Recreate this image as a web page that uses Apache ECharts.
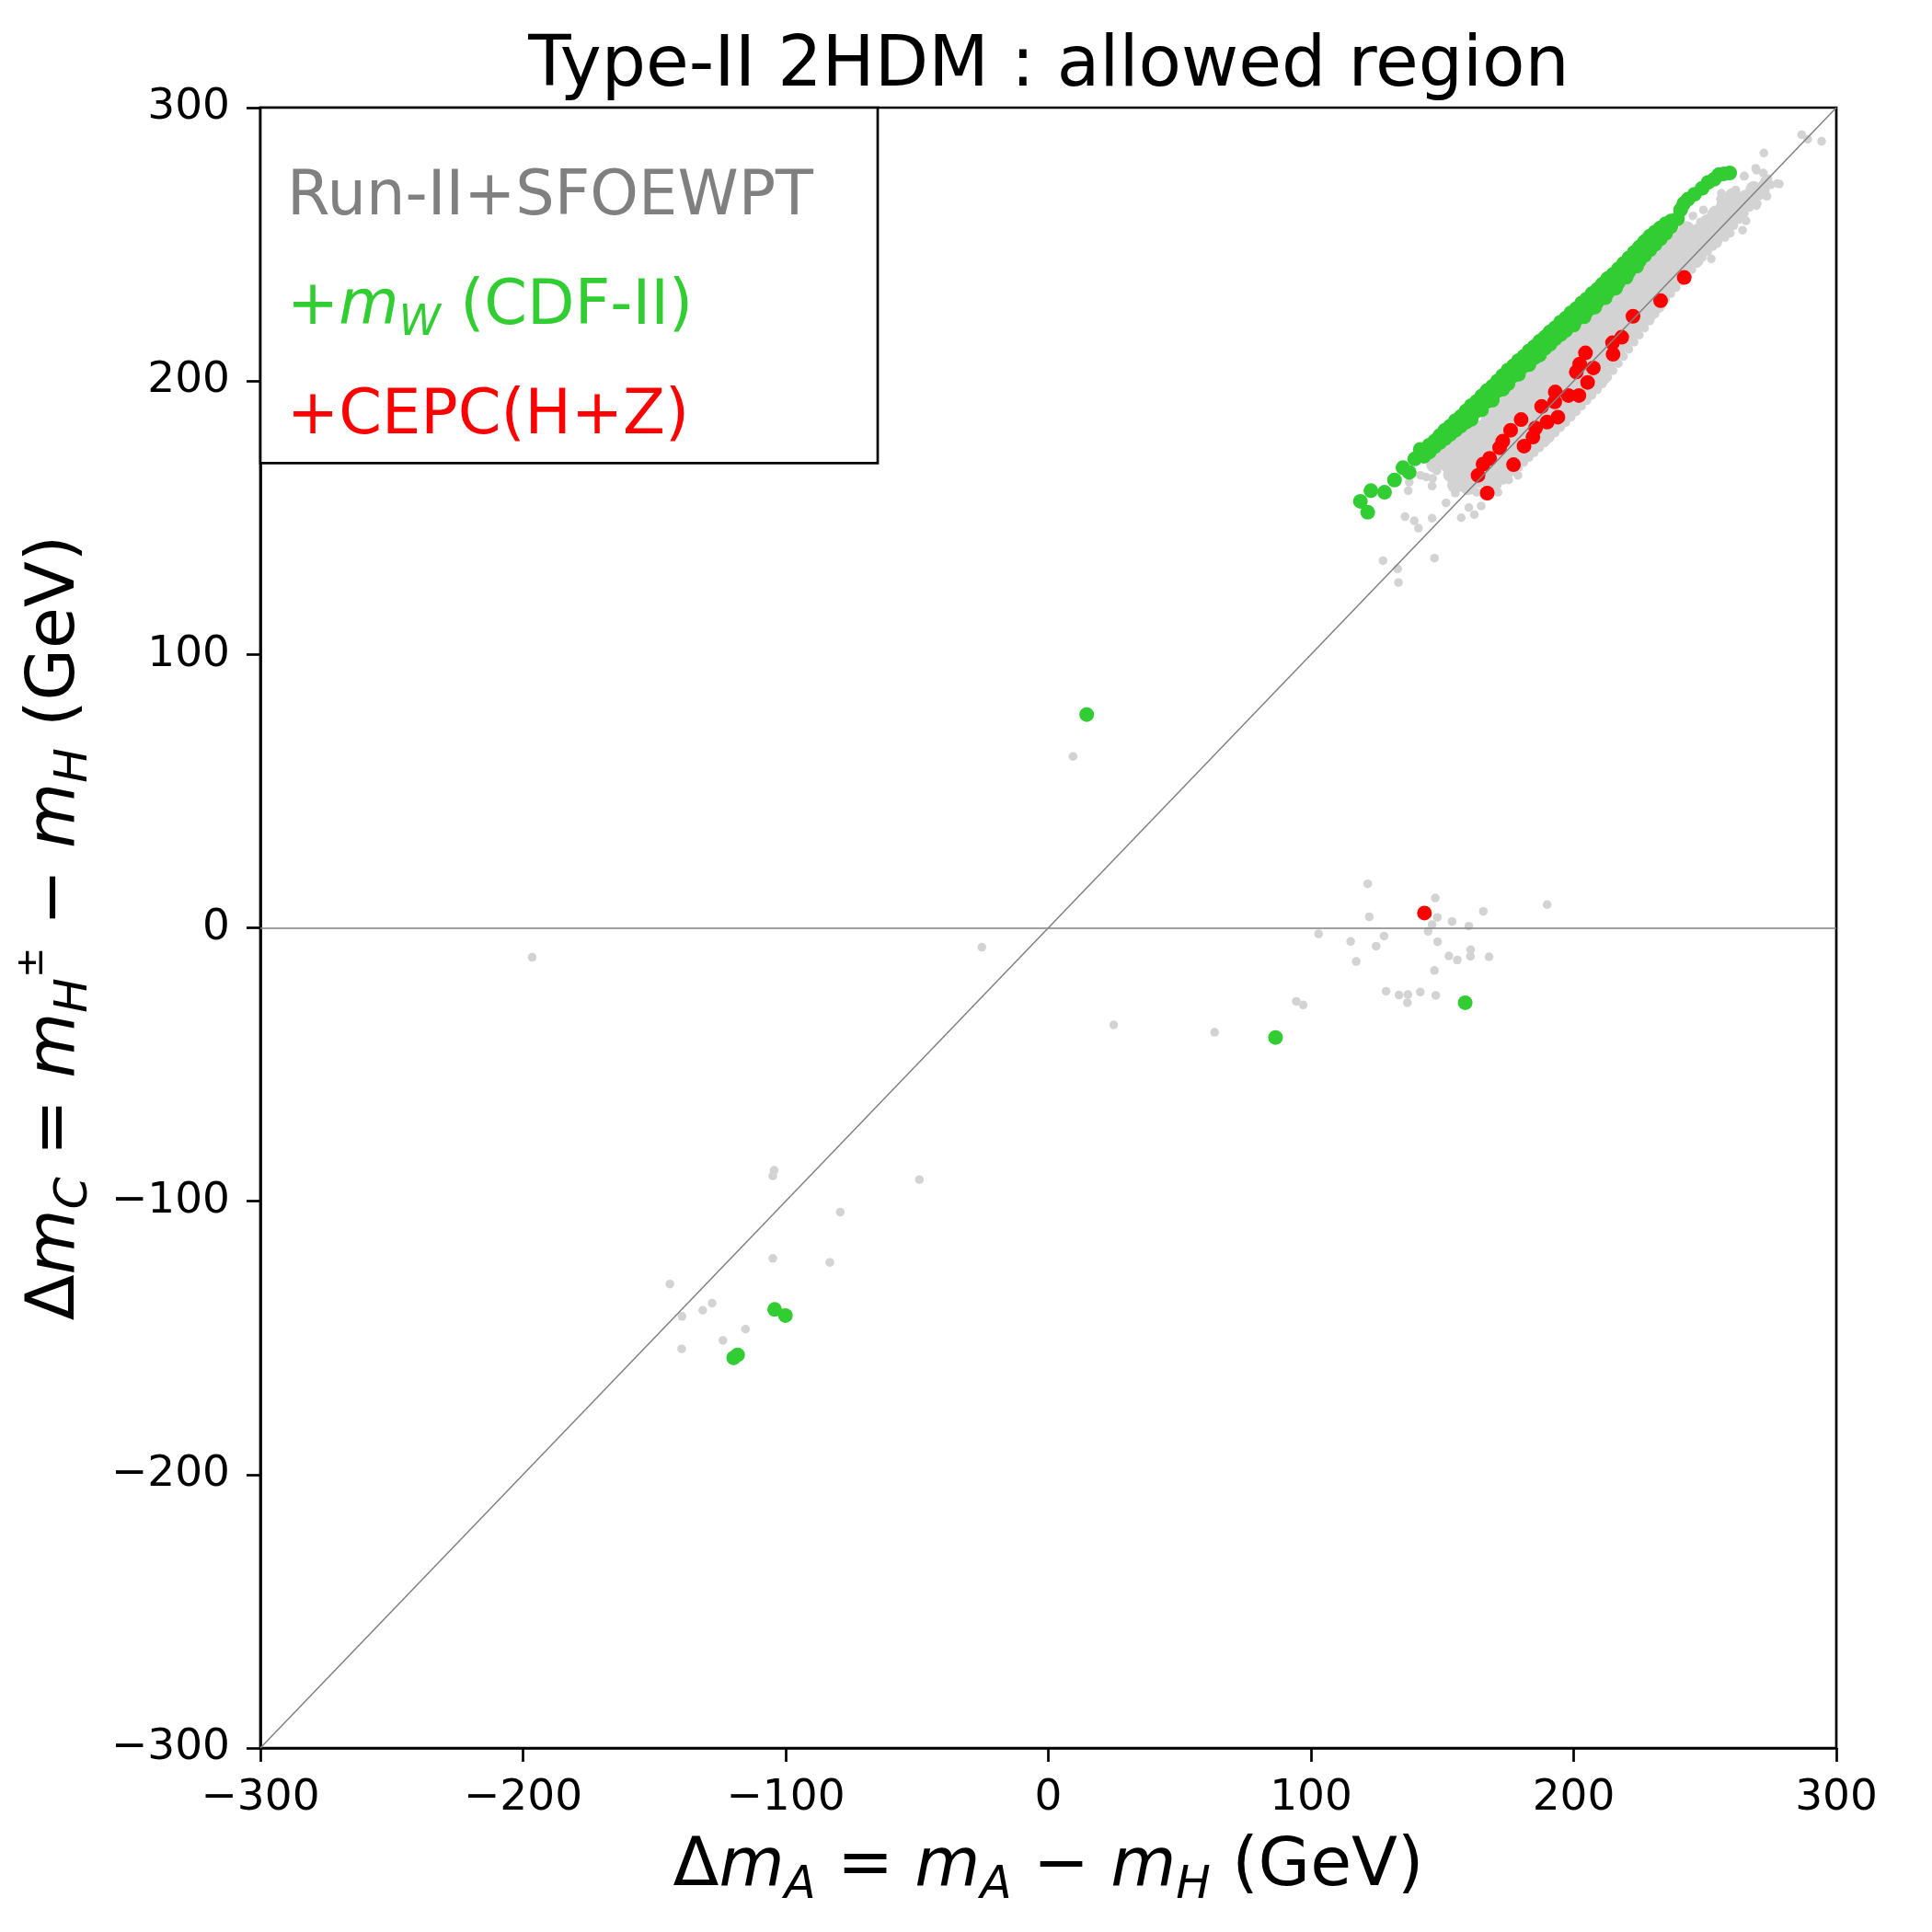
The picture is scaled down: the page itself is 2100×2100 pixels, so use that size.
<!DOCTYPE html>
<html>
<head>
<meta charset="utf-8">
<script src="https://cdn.jsdelivr.net/npm/echarts@6/dist/echarts.min.js"></script>
<style>
html,body{margin:0;padding:0;background:#fff;}
#chart{width:2100px;height:2100px;}
</style>
</head>
<body>
<div id="chart"></div>
<script>
// ---------------- data ----------------
const titleText = 'Type-II 2HDM : allowed region';
const axisMin = -300, axisMax = 300, axisStep = 100;
const seriesNames = ['Run-II+SFOEWPT', '+mW (CDF-II)', '+CEPC(H+Z)'];

// isolated grey scan points
const greyScatter = [
  [-196.5,-10.8],[-25.3,-7.1],[9.4,62.7],[24.9,-35.5],[63.3,-38.2],
  [-104.4,-88.7],[-104.9,-90.7],[-49.1,-92.1],[-79.2,-104.0],[-104.9,-120.9],[-83.2,-122.4],
  [-144.1,-130.3],[-128.0,-137.3],[-131.6,-139.9],[-139.5,-142.1],[-115.3,-146.8],[-123.9,-150.9],[-139.6,-154.0],
  [121.6,16.1],[147.3,10.9],[122.2,4.0],[148.1,3.8],[153.7,2.3],[165.6,6.0],[189.9,8.5],[146.1,1.2],
  [144.6,-1.3],[160.1,0.6],[102.9,-2.2],[115.1,-5.0],[127.8,-3.0],[124.8,-6.7],[148.2,-5.1],[160.8,-8.0],
  [152.5,-10.3],[155.7,-11.8],[160.7,-10.4],[167.8,-10.6],[117.2,-12.3],[147.0,-15.6],[128.6,-23.2],
  [133.5,-24.6],[136.9,-24.4],[141.6,-23.5],[147.5,-24.7],[136.7,-27.4],[94.4,-26.9],[97.0,-28.2],
  [127.4,134.3],[133.0,131.3],[133.3,126.3],[147.0,135.2],[135.8,150.4],[139.3,148.9],[140.9,146.2],
  [146.1,149.8],[137.0,159.9],[137.4,163.0],[146.1,161.6],[146.3,164.4],[143.8,164.9],[141.7,165.5],
  [147.9,167.2],[151.4,155.4],[157.2,150.0],[162.2,151.1],[160.1,153.7],[164.8,154.3],[154.9,159.0],
  [155.5,162.1],[158.4,161.9],[156.6,164.4],[151.7,168.0],[154.3,168.9],[160.1,174.5],[158.4,170.6],
  [161.3,165.5],[166.0,158.2],[171.2,159.3],[168.3,162.1],[175.3,163.8],[178.8,165.5],
  [286.8,290.1],[289.1,288.4],[294.4,287.7],[272.4,283.4],[265.0,275.0],[269.3,277.8],[272.2,276.1],
  [272.8,273.3],[277.5,272.2],[273.4,267.7],[269.9,264.9],[265.2,266.0],[261.7,269.9],[263.5,267.1],
  [255.9,266.6],[264.0,259.8],[261.1,262.6],[258.2,262.6],[259.4,255.9],[255.9,259.3],[252.4,261.0],
  [249.4,262.6],[245.4,260.4],[248.3,258.2],[253.5,253.7],[257.6,252.5],[254.7,250.3],[251.2,248.6],
  [246.5,252.5],[244.2,254.8],[242.4,250.3],[247.7,246.9],[252.4,244.7],[244.2,244.7],[240.7,246.9],
  [238.4,243.6],[234.9,242.5],[238.4,239.1],[242.4,241.3],[247.7,243.6],[231.4,236.8],[234.9,234.6],
  [229.0,232.4],[224.3,230.1],[222.0,232.4],[220.8,227.9],[226.7,226.8],[231.4,227.9],[236.0,232.4],
  [219.1,223.4],[224.3,223.4],[229.0,224.5],
  [256.2,268.7],[264.9,274.9],[269.6,277.1],[278.3,272.1],[273.6,267.6],[269.6,264.2],[265.6,258.6],
  [264.3,255.2],[259.6,254.1],[262.2,262.0],[257.6,258.6]
];

// grey scan points along the lower-right rim of the dense band
const greyBandEdge = [
  [163,159.3],[165,159.3],[167,160.1],[169,160.9],[171,162.1],[173,163.7],[175,165.3],[177,166.9],
  [179,168.5],[181,170.2],[183,172.0],[185,173.8],[187,175.6],[189,177.4],[191,179.2],[193,181.1],
  [195,183.0],[197,184.9],[199,186.8],[201,188.8],[203,190.8],[205,192.8],[207,194.8],[209,196.8],
  [211,199.0],[213,201.4],[215,203.8],[217,206.4],[219,209.0],[221,211.6],[223,214.2],[225,216.8],
  [227,219.4],[229,222.0],[231,224.6],[233,227.2],[235,229.8],[237,232.0],[239,234.2],[241,236.4],
  [243,238.6],[245,240.8],[247,243.0],[249,245.2],[251,247.3],[253,249.2],[255,251.1],[257,253.0],
  [259,254.9],[261,256.9],[263,259.1],[265,261.3],[267,263.5],[269,265.7],[271,267.8],[273,269.8],[275,271.8],
  [164,162.5],[166,162.9],[168,163.7],[170,164.7],[172,166.1],[174,167.7],[176,169.3],[178,170.9],
  [180,172.5],[182,174.3],[184,176.1],[186,177.9],[188,179.7],[190,181.5],[192,183.4],[194,185.3],
  [196,187.2],[198,189.1],[200,191.0],[202,193.0],[204,195.0],[206,197.0],[208,199.0],[210,201.1],
  [212,203.4],[214,205.8],[216,208.3],[218,210.9],[220,213.5],[222,216.1],[224,218.7],[226,221.3],
  [228,223.9],[230,226.5],[232,229.1],[234,231.7],[236,234.1],[238,236.3],[240,238.5],[242,240.7],
  [244,242.9],[246,245.1],[248,247.3],[250,249.5],[252,251.5],[254,253.4],[256,255.3],[258,257.2],
  [260,259.1],[262,261.2],[264,263.4],[266,265.6],[268,267.8],[270,270.0],[272,272.0],[274,274.0]
];

// grey scan points filling the interior of the dense band
const greyBandCore = [
  [147.0,169.5],[150.2,172.7],[153.4,175.9],[156.6,179.1],[159.8,182.3],
  [151.8,169.8],[155.0,173.0],[158.2,176.2],[161.4,179.4],[164.6,182.6],[167.8,185.8],[171.0,189.0],
  [174.2,192.2],[177.4,195.4],[180.6,198.6],[183.8,201.8],[187.0,205.0],[190.2,208.2],[193.4,211.4],
  [196.6,214.6],[199.8,217.8],[203.0,221.0],[206.2,224.2],[209.4,227.4],[212.6,230.6],[215.8,233.8],
  [219.0,237.0],[222.2,240.2],[225.4,243.4],[228.6,246.6],[231.8,249.8],[235.0,253.0],
  [153.4,165.9],[156.6,169.1],[159.8,172.3],[163.0,175.5],[166.2,178.7],[169.4,181.9],[172.6,185.1],
  [175.8,188.3],[179.0,191.5],[182.2,194.7],[185.4,197.9],[188.6,201.1],[191.8,204.3],[195.0,207.5],
  [198.2,210.7],[201.4,213.9],[204.6,217.1],[207.8,220.3],[211.0,223.5],[214.2,226.7],[217.4,229.9],
  [220.6,233.1],[223.8,236.3],[227.0,239.5],[230.2,242.7],[233.4,245.9],[236.6,249.1],[239.8,252.3],[243.0,255.5],
  [155.0,162.0],[158.2,165.2],[161.4,168.4],[164.6,171.6],[167.8,174.8],[171.0,178.0],[174.2,181.2],
  [177.4,184.4],[180.6,187.6],[183.8,190.8],[187.0,194.0],[190.2,197.2],[193.4,200.4],[196.6,203.6],
  [199.8,206.8],[203.0,210.0],[206.2,213.2],[209.4,216.4],[212.6,219.6],[215.8,222.8],[219.0,226.0],
  [222.2,229.2],[225.4,232.4],[228.6,235.6],[231.8,238.8],[235.0,242.0],[238.2,245.2],[241.4,248.4],
  [244.6,251.6],[247.8,254.8],[251.0,258.0],[254.2,261.2],[257.4,264.4],[260.6,267.6],
  [159.8,161.3],[163.0,164.5],[166.2,167.7],[169.4,170.9],[172.6,174.1],[175.8,177.3],[179.0,180.5],
  [182.2,183.7],[185.4,186.9],[188.6,190.1],[191.8,193.3],[195.0,196.5],[198.2,199.7],[201.4,202.9],
  [204.6,206.1],[207.8,209.3],[211.0,212.5],[214.2,215.7],[217.4,218.9],[220.6,222.1],[223.8,225.3],
  [227.0,228.5],[230.2,231.7],[233.4,234.9],[236.6,238.1],[239.8,241.3],[243.0,244.5],[246.2,247.7],
  [249.4,250.9],[252.6,254.1],[255.8,257.3],[259.0,260.5],[262.2,263.7],[265.4,266.9],[268.6,270.1],
  [167.8,163.8],[171.0,167.0],[174.2,170.2],[177.4,173.4],[180.6,176.6],[183.8,179.8],[187.0,183.0],
  [190.2,186.2],[193.4,189.4],[196.6,192.6],[199.8,195.8],[203.0,199.0],[206.2,202.2],[209.4,205.4],
  [212.6,208.6],[215.8,211.8],[219.0,215.0],[222.2,218.2],[225.4,221.4],[228.6,224.6],[231.8,227.8],
  [188.6,179.1],[191.8,182.3],[195.0,185.5],[198.2,188.7],[201.4,191.9],[204.6,195.1],[207.8,198.3],[211.0,201.5]
];

// +mW (CDF-II) points
const greenPoints = [
  [118.8,156.0],[121.6,152.0],[122.8,159.9],[128.0,159.3],[131.8,163.8],[135.0,168.3],[137.4,166.6],
  [139.5,171.5],[141.6,175.0],
  [143,174],[143,172.5],[145,176.5],[145,174],[147,178],[147,176],[149,180],[149,177.5],[151,182],[151,179],
  [153,183.5],[153,180.5],[155,185.5],[155,182],[157,187],[157,183.5],[159,189],[159,185],[161,191],[161,187],
  [161,186],[163,192.5],[163,189],[165,194.5],[165,191],[165,189.5],[167,196.5],[167,192.5],[169,198],[169,194],
  [169,193],[171,200],[171,196.5],[173,202],[173,198],[173,197],[175,204],[175,200.5],[175,199],[177,205.5],
  [177,202],[179,207.5],[179,203.5],[179,202.5],[181,209],[181,205.5],[183,211],[183,207],[183,206],
  [185,212.5],[185,208.5],[187,214.5],[187,210.5],[187,209.5],[189,216],[189,212],[191,218],[191,214],
  [191,213.5],[193,219.5],[193,215.5],[195,221.5],[195,217],[197,223],[197,219],[197,218.5],[199,225],
  [199,220.5],[201,226.5],[201,222.5],[203,228.5],[203,224],[205,230],[205,225.5],[207,232],[207,227.5],
  [209,233.5],[209,229],[211,235.5],[211,231],[213,237.5],[213,232.5],[215,239],[215,234.5],[217,241],
  [217,236],[219,243],[219,238],[221,245],[221,240],[223,247],[223,242],[225,249],[225,244],[227,251],
  [227,246],[229,253],[229,248],[231,254.5],[231,250],[233,256],[233,252],[235,257.5],[235,254],
  [237,258.5],[237,256.5],
  [200,220.5],[204,223.5],[208,227],[212,230.5],[216,234],[220,238],[224,242],
  [239.5,259.3],[240.7,262.6],[241.9,264.9],[243.5,266.5],[246.0,268.3],[248.9,270.5],[251.2,272.7],
  [253.5,273.8],[255.3,275.5],[257.2,275.8],[259.4,276.1],
  [14.6,78.0],[86.5,-40.1],[158.7,-27.4],[-104.2,-139.6],[-100.1,-141.8],[-119.8,-157.3],[-118.3,-156.2]
];

// +CEPC(H+Z) points
const redPoints = [
  [242.1,237.9],[233.1,229.4],[222.6,223.7],[218.3,216.0],[214.8,214.0],[215.0,209.8],[204.5,210.3],
  [202.3,206.2],[201.0,203.3],[207.5,204.8],[205.3,199.5],[202.0,194.7],[198.0,194.7],[193.0,196.0],
  [192.8,192.4],[187.8,190.7],[194.0,186.8],[189.9,185.0],[185.5,182.8],[180.0,185.9],[176.0,182.0],
  [173.0,178.0],[171.8,175.6],[181.1,176.2],[184.5,179.5],[168.0,171.7],[165.5,169.6],[163.6,165.5],
  [177.1,169.4],[167.1,159.0],[143.2,5.4]
];

// reference lines: y = x diagonal and y = 0
const diagonalLine = [[-300,-300],[300,300]];
const zeroLineY = 0;

// ---------------- chart ----------------
const FONT = 'DejaVu Sans';
const GREY_TXT = '#808080', GREEN = '#32cd32', RED = '#ff0000', LIGHT = '#d3d3d3';

function tickFmt(v){ return v < 0 ? '\u2212' + Math.abs(v) : String(v); }

const nameRich = {
  r: {fontFamily: FONT, fontSize: 73, lineHeight: 90, color: '#000'},
  i: {fontFamily: FONT, fontSize: 73, lineHeight: 90, color: '#000', fontStyle: 'italic'},
  s: {fontFamily: FONT, fontSize: 50, lineHeight: 53, color: '#000', fontStyle: 'italic', verticalAlign: 'bottom'},
  p: {fontFamily: FONT, fontSize: 40, lineHeight: 60, color: '#000', verticalAlign: 'top'}
};

const chart = echarts.init(document.getElementById('chart'), null, {renderer: 'canvas'});

const option = {
  animation: false,
  backgroundColor: '#fff',
  title: {
    text: titleText,
    left: 1140, top: 35, padding: 0,
    textAlign: 'center',
    textStyle: {fontFamily: FONT, fontSize: 76, fontWeight: 'normal', color: '#000'}
  },
  legend: {
    show: true,
    orient: 'vertical',
    left: 283, top: 117,
    padding: [59, 70, 9.8, 24],
    itemGap: 38.75,
    itemWidth: 0, itemHeight: 80,
    icon: 'rect',
    itemStyle: {opacity: 0},
    selectedMode: false,
    backgroundColor: '#fff',
    borderColor: '#000', borderWidth: 2.7, borderRadius: 0,
    data: [
      {name: seriesNames[0], textStyle: {color: GREY_TXT}},
      {name: seriesNames[1], textStyle: {color: GREEN}},
      {name: seriesNames[2], textStyle: {color: RED}}
    ],
    formatter: function(name){
      if (name === seriesNames[1]) return '+{mi|m}{ms|W} (CDF-II)';
      return name;
    },
    textStyle: {
      fontFamily: FONT, fontSize: 67, lineHeight: 80,
      rich: {
        mi: {fontFamily: FONT, fontSize: 67, lineHeight: 80, fontStyle: 'italic', color: GREEN},
        ms: {fontFamily: FONT, fontSize: 46, lineHeight: 42, fontStyle: 'italic', color: GREEN, verticalAlign: 'bottom'}
      }
    },
    z: 10
  },
  grid: {
    left: 283, right: 104, top: 117, bottom: 200,
    show: true, borderColor: '#000', borderWidth: 2.7, backgroundColor: 'transparent'
  },
  xAxis: {
    type: 'value', min: axisMin, max: axisMax, interval: axisStep,
    splitLine: {show: false},
    axisLine: {show: true, onZero: false, lineStyle: {color: '#000', width: 2.7}},
    axisTick: {show: true, inside: false, length: 15, lineStyle: {color: '#000', width: 2.7}},
    axisLabel: {fontFamily: FONT, fontSize: 47, color: '#000', margin: 31, formatter: tickFmt},
    name: '{r|\u0394}{i|m}{s|A}{r| = }{i|m}{s|A}{r| \u2212 }{i|m}{s|H}{r| (GeV)}',
    nameLocation: 'middle', nameGap: 85,
    nameTextStyle: {fontFamily: FONT, fontSize: 73, lineHeight: 90, color: '#000', rich: nameRich}
  },
  yAxis: {
    type: 'value', min: axisMin, max: axisMax, interval: axisStep,
    splitLine: {show: false},
    axisLine: {show: true, onZero: false, lineStyle: {color: '#000', width: 2.7}},
    axisTick: {show: true, inside: false, length: 15, lineStyle: {color: '#000', width: 2.7}},
    axisLabel: {fontFamily: FONT, fontSize: 47, color: '#000', margin: 33, formatter: tickFmt},
    name: '{r|\u0394}{i|m}{s|C}{r| = }{i|m}{s|H}{p|\u00b1}{r| \u2212 }{i|m}{s|H}{r| (GeV)}',
    nameLocation: 'middle', nameGap: 177, nameRotate: 90,
    nameTextStyle: {fontFamily: FONT, fontSize: 73, lineHeight: 90, color: '#000', rich: nameRich}
  },
  series: [
    {
      name: seriesNames[0], type: 'scatter', data: greyScatter.concat(greyBandEdge),
      symbol: 'circle', symbolSize: 9.5, itemStyle: {color: LIGHT, opacity: 1}, silent: true, z: 2
    },
    {
      name: 'band', type: 'scatter', data: greyBandCore,
      symbol: 'circle', symbolSize: 18, itemStyle: {color: LIGHT, opacity: 1}, silent: true, z: 2
    },
    {
      name: seriesNames[1], type: 'scatter', data: greenPoints,
      symbol: 'circle', symbolSize: 16, itemStyle: {color: GREEN, opacity: 1}, silent: true, z: 3
    },
    {
      name: seriesNames[2], type: 'scatter', data: redPoints,
      symbol: 'circle', symbolSize: 16, itemStyle: {color: RED, opacity: 1}, silent: true, z: 4
    },
    {
      name: 'ref', type: 'line', data: diagonalLine, symbol: 'none', silent: true, z: 5,
      lineStyle: {color: '#808080', width: 1.5},
      markLine: {
        silent: true, symbol: 'none', label: {show: false},
        lineStyle: {color: '#808080', width: 1.5, type: 'solid'},
        data: [{yAxis: zeroLineY}]
      }
    }
  ]
};
chart.setOption(option);
</script>
</body>
</html>
